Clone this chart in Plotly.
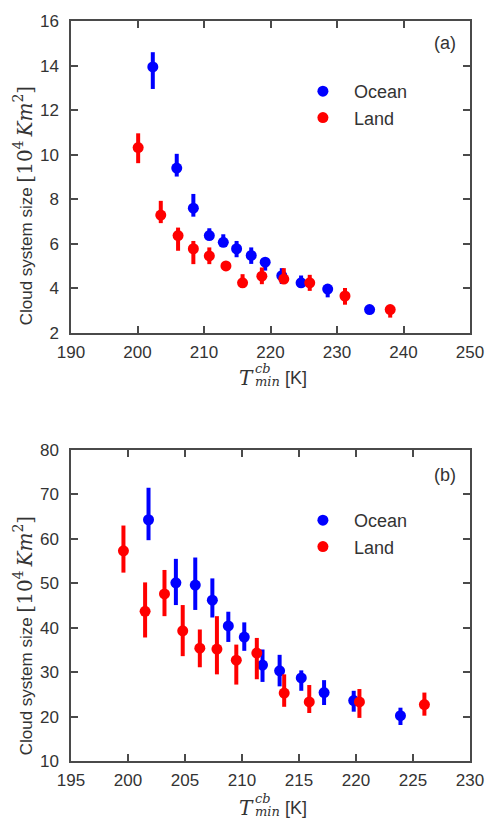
import plotly.graph_objects as go

# ---- panel (a) ----
a_ocean_t = [202.3, 205.9, 208.4, 210.8, 212.9, 214.9, 217.1, 219.2, 221.7, 224.6, 228.6, 234.9]
a_ocean_size = [13.94, 9.40, 7.60, 6.37, 6.07, 5.78, 5.48, 5.18, 4.57, 4.25, 3.97, 3.05]
a_ocean_hi = [0.66, 0.64, 0.64, 0.33, 0.36, 0.35, 0.36, 0.15, 0.34, 0.33, 0.15, 0.10]
a_ocean_lo = [0.99, 0.38, 0.38, 0.20, 0.20, 0.38, 0.38, 0.38, 0.37, 0.20, 0.37, 0.10]

a_land_t = [200.1, 203.5, 206.1, 208.4, 210.8, 213.3, 215.8, 218.7, 222.0, 225.9, 231.2, 238.0]
a_land_size = [10.32, 7.29, 6.37, 5.78, 5.46, 5.01, 4.25, 4.55, 4.42, 4.25, 3.66, 3.05]
a_land_hi = [0.64, 0.64, 0.36, 0.35, 0.38, 0.10, 0.39, 0.39, 0.49, 0.36, 0.36, 0.10]
a_land_lo = [0.70, 0.36, 0.68, 0.69, 0.37, 0.10, 0.10, 0.36, 0.20, 0.36, 0.39, 0.36]

# ---- panel (b) ----
b_ocean_t = [201.8, 204.2, 205.9, 207.4, 208.8, 210.2, 211.8, 213.3, 215.2, 217.2, 219.8, 223.9]
b_ocean_size = [64.3, 50.1, 49.6, 46.2, 40.4, 37.9, 31.6, 30.3, 28.7, 25.4, 23.6, 20.2]
b_ocean_hi = [7.2, 5.4, 6.2, 4.9, 3.2, 3.3, 3.5, 3.6, 1.7, 2.8, 2.2, 1.8]
b_ocean_lo = [4.6, 5.0, 5.6, 3.9, 3.6, 3.1, 3.8, 3.5, 2.9, 2.8, 2.5, 2.1]

b_land_t = [199.6, 201.5, 203.2, 204.8, 206.3, 207.8, 209.5, 211.3, 213.7, 215.9, 220.3, 226.0]
b_land_size = [57.3, 43.7, 47.6, 39.3, 35.4, 35.2, 32.7, 34.3, 25.3, 23.3, 23.3, 22.7]
b_land_hi = [5.7, 6.5, 5.4, 5.8, 4.2, 7.4, 3.5, 3.4, 4.2, 3.8, 2.9, 2.7]
b_land_lo = [4.9, 5.9, 5.0, 5.7, 4.3, 5.7, 5.5, 5.9, 3.1, 2.5, 3.6, 2.5]

a_xticks = [190, 200, 210, 220, 230, 240, 250]
a_yticks = [2, 4, 6, 8, 10, 12, 14, 16]
b_xticks = [195, 200, 205, 210, 215, 220, 225, 230]
b_yticks = [10, 20, 30, 40, 50, 60, 70, 80]

BLUE = "#0000ff"
RED = "#ff0000"
TXT = "#333333"
FRAME = "#4a4a4a"
SANS = "Liberation Sans, Arial, sans-serif"
SERIF = "DejaVu Serif, Liberation Serif, serif"

W, H = 496, 820
ML, MR, MT, MB = 71, 15, 21, 59
PW, PH = W - ML - MR, H - MT - MB


def px(x):
    return (x - ML) / PW


def py(y):
    return (H - MB - y) / PH


fig = go.Figure()


def add_series(t, s, hi, lo, color, name, xa, ya, legend):
    fig.add_trace(go.Scatter(
        x=t, y=s, mode="markers", name=name,
        marker=dict(color=color, size=11, line=dict(width=0)),
        error_y=dict(type="data", symmetric=False, array=hi, arrayminus=lo,
                     color=color, thickness=4, width=0),
        xaxis=xa, yaxis=ya, legend=legend, showlegend=True,
    ))


add_series(a_ocean_t, a_ocean_size, a_ocean_hi, a_ocean_lo, BLUE, "Ocean", "x", "y", "legend")
add_series(a_land_t, a_land_size, a_land_hi, a_land_lo, RED, "Land", "x", "y", "legend")
add_series(b_ocean_t, b_ocean_size, b_ocean_hi, b_ocean_lo, BLUE, "Ocean", "x2", "y2", "legend2")
add_series(b_land_t, b_land_size, b_land_hi, b_land_lo, RED, "Land", "x2", "y2", "legend2")

axis_common = dict(
    showline=True, linecolor=FRAME, linewidth=1.5, mirror="ticks",
    ticks="inside", ticklen=7, tickwidth=1.5, tickcolor=FRAME,
    showgrid=False, zeroline=False,
    tickfont=dict(family=SANS, size=17, color=TXT),
)

top_dom = [py(333), py(21)]
bot_dom = [py(761), py(450)]

legend_common = dict(xanchor="left", yanchor="top", bgcolor="rgba(0,0,0,0)",
                     borderwidth=0, itemwidth=52,
                     font=dict(family=SANS, size=18, color=TXT))

fig.update_layout(
    width=W, height=H,
    margin=dict(l=ML, r=MR, t=MT, b=MB),
    paper_bgcolor="white", plot_bgcolor="white",
    font=dict(family=SANS, color=TXT),
    xaxis=dict(axis_common, range=[190, 250], tickvals=a_xticks, domain=[0, 1],
               anchor="y", ticklabelstandoff=3),
    yaxis=dict(axis_common, range=[2, 16], tickvals=a_yticks, domain=top_dom,
               anchor="x", ticklabelstandoff=7),
    xaxis2=dict(axis_common, range=[195, 230], tickvals=b_xticks, domain=[0, 1],
                anchor="y2", ticklabelstandoff=3),
    yaxis2=dict(axis_common, range=[10, 80], tickvals=b_yticks, domain=bot_dom,
                anchor="x2", ticklabelstandoff=7),
    legend=dict(legend_common, x=px(298), y=py(73)),
    legend2=dict(legend_common, x=px(298), y=py(502)),
)

ylabel = ("Cloud system size "
          "<span style=\"font-family:'DejaVu Serif';font-size:20px\">[10<sup>4</sup>"
          "\u2009<i>Km</i><sup>2</sup>]</span>")

annotations = []
for cy in (205, 635):
    annotations.append(dict(text=ylabel, x=px(22), y=py(cy), textangle=-90,
                            font=dict(family=SANS, size=17, color=TXT)))

# x-axis label pieces: T with stacked super/subscript, then [K]
for dy in (0, 430):
    annotations += [
        dict(text="<i>T</i>", x=px(251), y=py(378 + dy),
             font=dict(family=SERIF, size=20, color=TXT)),
        dict(text="<i>cb</i>", x=px(258), y=py(368 + dy), xanchor="left",
             font=dict(family=SERIF, size=13, color=TXT)),
        dict(text="<i>min</i>", x=px(258), y=py(381 + dy), xanchor="left",
             font=dict(family=SERIF, size=13, color=TXT)),
        dict(text="[K]", x=px(289), y=py(378 + dy), xanchor="left",
             font=dict(family=SANS, size=18, color=TXT)),
    ]

annotations.append(dict(text="(a)", x=px(455), y=py(43),
                        font=dict(family=SANS, size=18, color=TXT)))
annotations.append(dict(text="(b)", x=px(455), y=py(475),
                        font=dict(family=SANS, size=18, color=TXT)))

for a in annotations:
    a.update(xref="paper", yref="paper", showarrow=False)
    a.setdefault("xanchor", "center")
    a.setdefault("yanchor", "middle")

fig.update_layout(annotations=annotations)

fig.write_html("out.html")
